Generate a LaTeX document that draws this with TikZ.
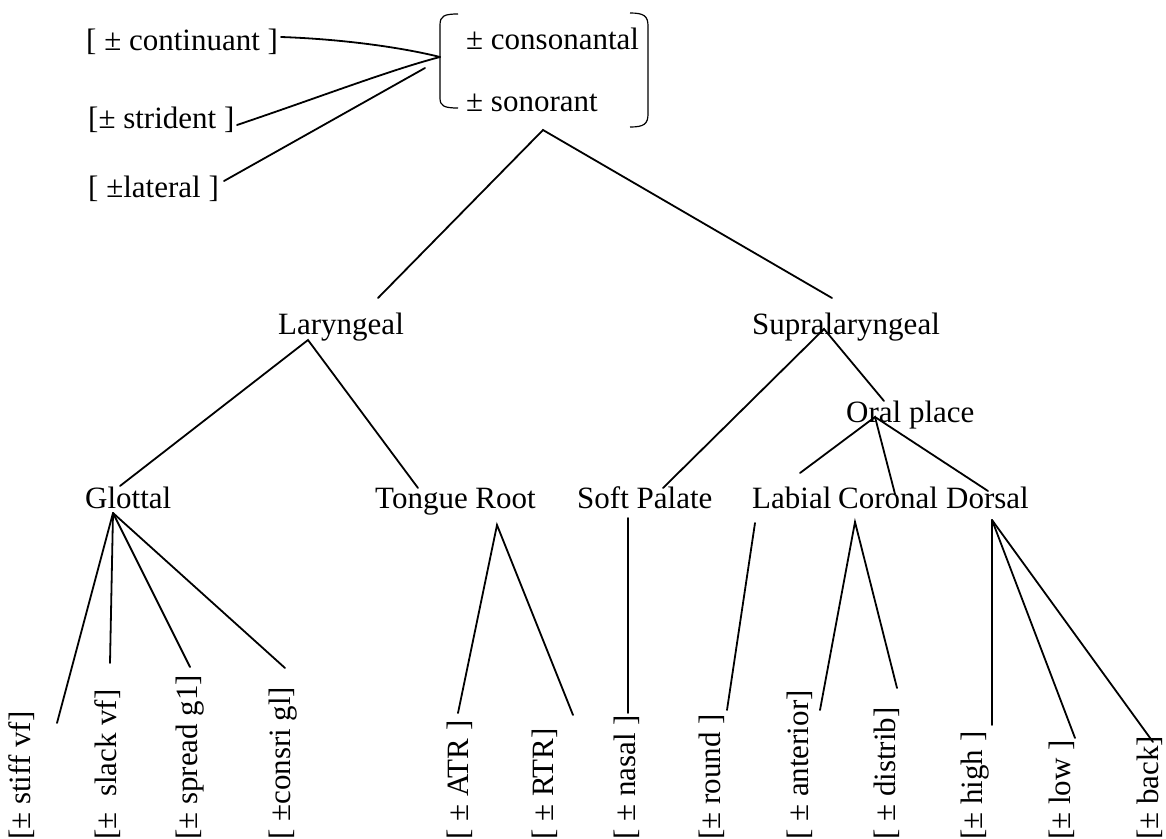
\documentclass[tikz,border=0pt]{standalone}
\usepackage{fontspec}
\setmainfont{Liberation Serif}
\begin{document}
\begin{tikzpicture}[x=1pt,y=-1pt,
  feat/.style={inner sep=0pt,anchor=base west,font=\fontsize{31}{37}\selectfont},
  leaf/.style={inner sep=0pt,anchor=west,rotate=90,font=\fontsize{31}{37}\selectfont},
  branch/.style={line width=1.8pt,line cap=round},
  brk/.style={line width=1.2pt}]
\useasboundingbox (0,0) rectangle (1166,838);

% manner features and root
\node[feat] (cont) at (86,50) {[ ± continuant ]};
\node[feat] (strid) at (88,128) {[± strident ]};
\node[feat] (lat) at (88,197) {[ ±lateral ]};
\node[feat] (cons) at (466,49) {± consonantal};
\node[feat] (son) at (466,111) {± sonorant};

% root brackets
\draw[brk] (458,14) .. controls (444,14) and (440,16) .. (440,25) -- (440,98) .. controls (440,106) and (444,108) .. (458,108);
\draw[brk] (630,13) .. controls (644,13) and (648,16) .. (648,26) -- (648,114) .. controls (648,124) and (644,127) .. (630,127);

% class nodes
\node[feat] (lar) at (278,334) {Laryngeal};
\node[feat] (supra) at (752,334) {Supralaryngeal};
\node[feat] (oral) at (846,422) {Oral place};
\node[feat] (glot) at (85,508) {Glottal};
\node[feat] (troot) at (375,508) {Tongue Root};
\node[feat] (soft) at (577,508) {Soft Palate};
\node[feat] (lab) at (752,508) {Labial};
\node[feat] (cor) at (838,508) {Coronal};
\node[feat] (dor) at (946,508) {Dorsal};

% terminal features
\node[leaf] (stiff) at (22,840) {[± stiff vf]};
\node[leaf] (slack) at (108,840) {[±\ \ slack vf]};
\node[leaf] (spread) at (190,840) {[± spread g1]};
\node[leaf] (consri) at (283,840) {[ ±consri gl]};
\node[leaf] (atr) at (460,840) {[ ± ATR ]};
\node[leaf] (rtr) at (545,840) {[ ± RTR]};
\node[leaf] (nasal) at (627,840) {[ ± nasal ]};
\node[leaf] (round) at (712,840) {[± round ]};
\node[leaf] (ant) at (800,840) {[ ± anterior]};
\node[leaf] (dist) at (887,840) {[ ± distrib]};
\node[leaf] (high) at (975,840) {[± high ]};
\node[leaf] (low) at (1062,840) {[± low ]};
\node[leaf] (back) at (1150,840) {[± back]};

% connector ends
\coordinate (rootpt) at (440,57);
\coordinate (cont-e) at (281,37);
\coordinate (strid-e) at (237,125);
\coordinate (lat-e) at (224,181);
\coordinate (lat-t) at (425,68);
\coordinate (son-b) at (543,130);
\coordinate (lar-t) at (378,298);
\coordinate (supra-t) at (832,298);
\coordinate (lar-b) at (308,340);
\coordinate (glot-t) at (120,486);
\coordinate (troot-t) at (418,488);
\coordinate (supra-b) at (824,329);
\coordinate (soft-t) at (663,488);
\coordinate (oral-t) at (884,401);
\coordinate (oral-b) at (875,417);
\coordinate (lab-t) at (800,473);
\coordinate (cor-t) at (895,494);
\coordinate (dor-t) at (988,491);
\coordinate (glot-b) at (113,513);
\coordinate (stiff-e) at (57,723);
\coordinate (slack-e) at (110,663);
\coordinate (spread-e) at (190,667);
\coordinate (consri-e) at (285,668);
\coordinate (troot-b) at (497,525);
\coordinate (atr-e) at (458,713);
\coordinate (rtr-e) at (573,715);
\coordinate (soft-b) at (628,518);
\coordinate (nasal-e) at (628,713);
\coordinate (lab-b) at (755,523);
\coordinate (round-e) at (727,710);
\coordinate (cor-b) at (855,522);
\coordinate (ant-e) at (820,710);
\coordinate (dist-e) at (897,688);
\coordinate (dor-b) at (992,520);
\coordinate (high-e) at (992,725);
\coordinate (low-e) at (1075,738);
\coordinate (back-e) at (1153,742);

% manner features linked to the root
\draw[branch] (cont-e) .. controls (340,39) and (400,47) .. (rootpt);
\draw[branch] (strid-e) .. controls (320,97) and (390,70) .. (rootpt);
\draw[branch] (lat-e) -- (lat-t);

% tree branches
\draw[branch] (lar-t) -- (son-b) -- (supra-t);
\draw[branch] (glot-t) -- (lar-b) -- (troot-t);
\draw[branch] (soft-t) -- (supra-b) -- (oral-t);
\draw[branch] (lab-t) -- (oral-b) -- (cor-t);
\draw[branch] (oral-b) -- (dor-t);
\draw[branch] (glot-b) -- (stiff-e);
\draw[branch] (glot-b) -- (slack-e);
\draw[branch] (glot-b) -- (spread-e);
\draw[branch] (glot-b) -- (consri-e);
\draw[branch] (atr-e) -- (troot-b) -- (rtr-e);
\draw[branch] (soft-b) -- (nasal-e);
\draw[branch] (lab-b) -- (round-e);
\draw[branch] (ant-e) -- (cor-b) -- (dist-e);
\draw[branch] (dor-b) -- (high-e);
\draw[branch] (dor-b) -- (low-e);
\draw[branch] (dor-b) -- (back-e);
\end{tikzpicture}
\end{document}
